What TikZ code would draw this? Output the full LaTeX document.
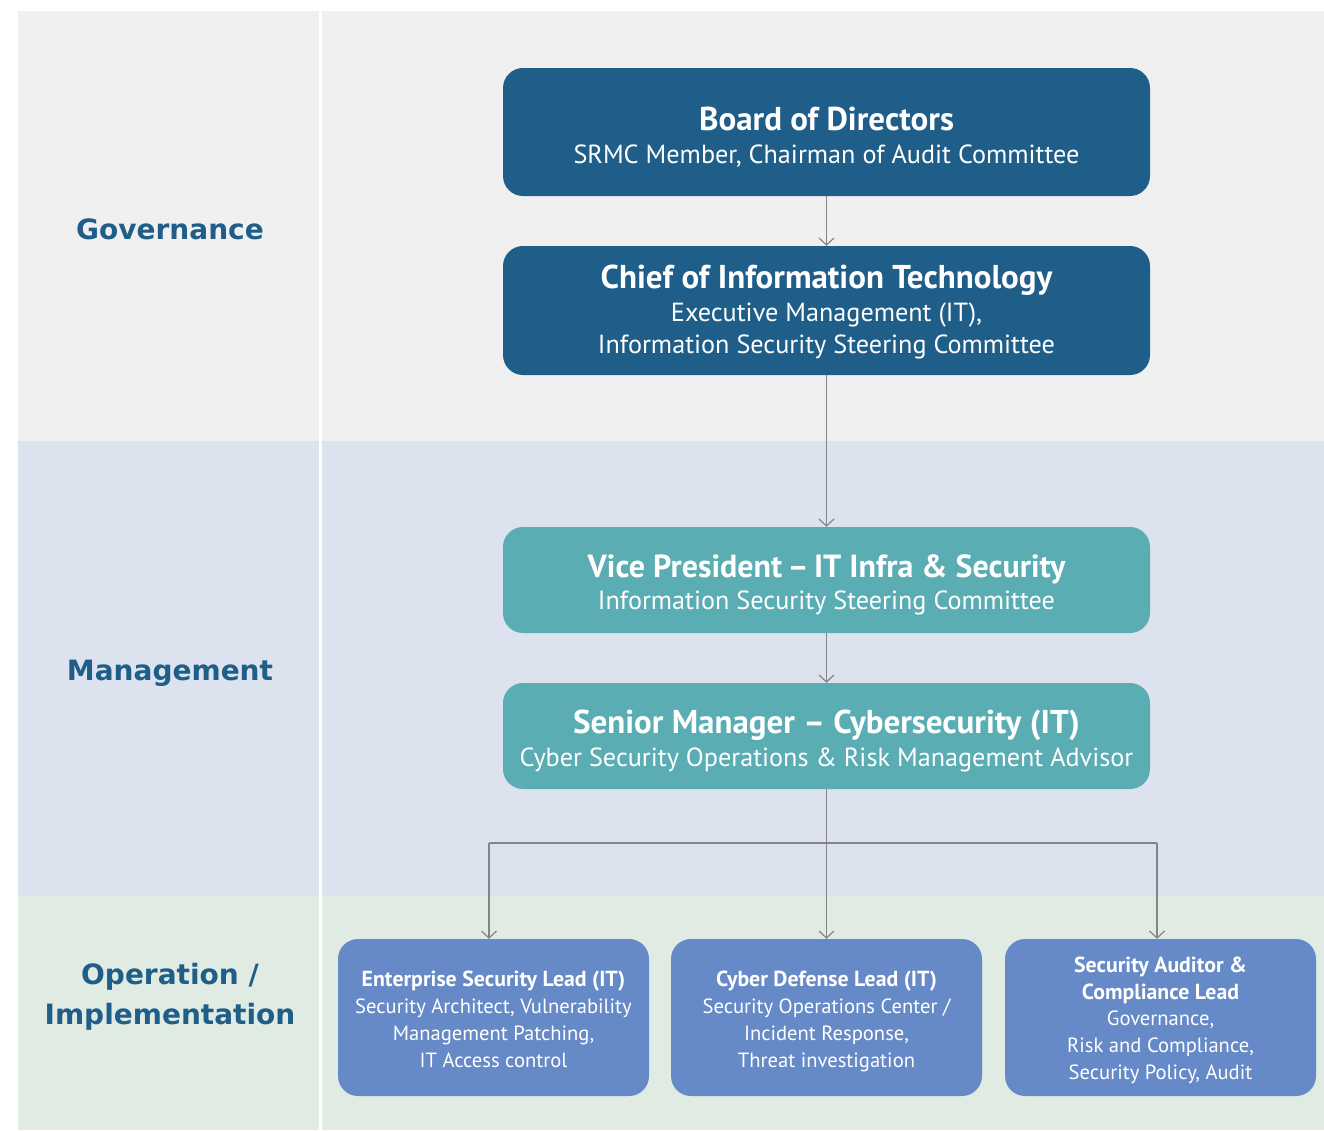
\documentclass[tikz,border=0pt]{standalone}
\usepackage{fontspec}
\setmainfont{PT Sans}
\newfontfamily\labelfont{DejaVu Sans}
\newfontfamily\condfont{PT Sans}
\usetikzlibrary{arrows.meta}
\definecolor{darkblue}{HTML}{1F5E88}
\definecolor{tealbox}{HTML}{5AADB3}
\definecolor{periw}{HTML}{6689C7}
\definecolor{govbg}{HTML}{F0F0F0}
\definecolor{mgmtbg}{HTML}{DCE2EE}
\definecolor{opbg}{HTML}{E0EBE3}
\definecolor{linegray}{HTML}{858585}
\tikzset{
  topbox/.style={rectangle, rounded corners=20pt, minimum width=647pt, text=white, align=center, inner sep=0pt,
    font=\fontsize{26.2}{32.5}\selectfont},
  govbox/.style={topbox, fill=darkblue, minimum height=128pt},
  mgmtbox/.style={topbox, fill=tealbox, minimum height=106pt},
  opbox/.style={rectangle, rounded corners=20pt, minimum width=311pt, minimum height=157pt, fill=periw, text=white,
    align=center, inner sep=0pt, font=\condfont\fontsize{20.6}{26.8}\selectfont},
  tier/.style={text=darkblue, align=center, font=\labelfont\bfseries\fontsize{28}{40}\selectfont},
  conn/.style={draw=linegray, line width=1.4pt, -{Straight Barb[length=7pt,width=15pt,line width=1.2pt]}},
  plainconn/.style={draw=linegray, line width=1.4pt},
}
\newcommand{\ttl}[1]{{\fontsize{33}{32.5}\selectfont\bfseries #1}}
\newcommand{\vptl}[1]{{\fontsize{32}{32.5}\selectfont\bfseries #1}}
\newcommand{\otl}[1]{{\fontsize{21.8}{26.8}\selectfont\bfseries #1}}
\newcommand{\boxtext}[2]{\raisebox{0pt}[\dimexpr\height+#1\relax][\dimexpr\depth-#1\relax]{\begin{tabular}{@{}c@{}}#2\end{tabular}}}
\begin{document}
\begin{tikzpicture}[x=1pt,y=-1pt]
\useasboundingbox (0,0) rectangle (1324,1130);
\fill[white] (0,0) rectangle (1324,1130);
% bands
\fill[govbg] (18,11) rectangle (1324,441);
\fill[mgmtbg] (18,441) rectangle (1324,896);
\fill[opbg] (18,896) rectangle (1324,1130);
\draw[white, line width=3pt] (320,11) -- (320,1130);
% tier labels
\node[tier] (gov) at (170,229) {Governance};
\node[tier] (mgmt) at (170,673) {Management};
\node[tier] (op) at (170,997) {Operation /\\Implementation};
% boxes
\node[govbox] (board) at (826.5,132) {\boxtext{8pt}{\ttl{Board of Directors}\\SRMC Member, Chairman of Audit Committee}};
\node[govbox, minimum height=129pt] (cit) at (826.5,310.5) {\boxtext{4pt}{\ttl{Chief of Information Technology}\\Executive Management (IT),\\Information Security Steering Committee}};
\node[mgmtbox] (vp) at (826.5,580) {\boxtext{7pt}{\vptl{Vice President\,–\,IT Infra \& Security}\\Information Security Steering Committee}};
\node[mgmtbox] (sm) at (826.5,736) {\boxtext{7pt}{\ttl{Senior Manager – Cybersecurity (IT)}\\Cyber Security Operations \& Risk Management Advisor}};
\node[opbox] (esl) at (493.5,1017.5) {\boxtext{4pt}{\otl{Enterprise Security Lead (IT)}\\Security Architect, Vulnerability\\Management Patching,\\IT Access control}};
\node[opbox] (cdl) at (826.5,1017.5) {\boxtext{4pt}{\otl{Cyber Defense Lead (IT)}\\Security Operations Center /\\Incident Response,\\Threat investigation}};
\node[opbox] (sac) at (1160.5,1017.5) {\boxtext{3pt}{\otl{Security Auditor \&}\\\otl{Compliance Lead}\\Governance,\\Risk and Compliance,\\Security Policy, Audit}};
% connectors
\coordinate (split) at (826.5,843);
\coordinate (splitL) at (489,843);
\coordinate (splitR) at (1157,843);
\draw[conn] (board) -- (cit);
\draw[conn] (cit) -- (vp);
\draw[conn] (vp) -- (sm);
\draw[conn] (sm) -- (cdl);
\draw[plainconn] (splitL) -- (splitR);
\draw[conn] (splitL) -- (splitL |- esl.north);
\draw[conn] (splitR) -- (splitR |- sac.north);
\end{tikzpicture}
\end{document}
